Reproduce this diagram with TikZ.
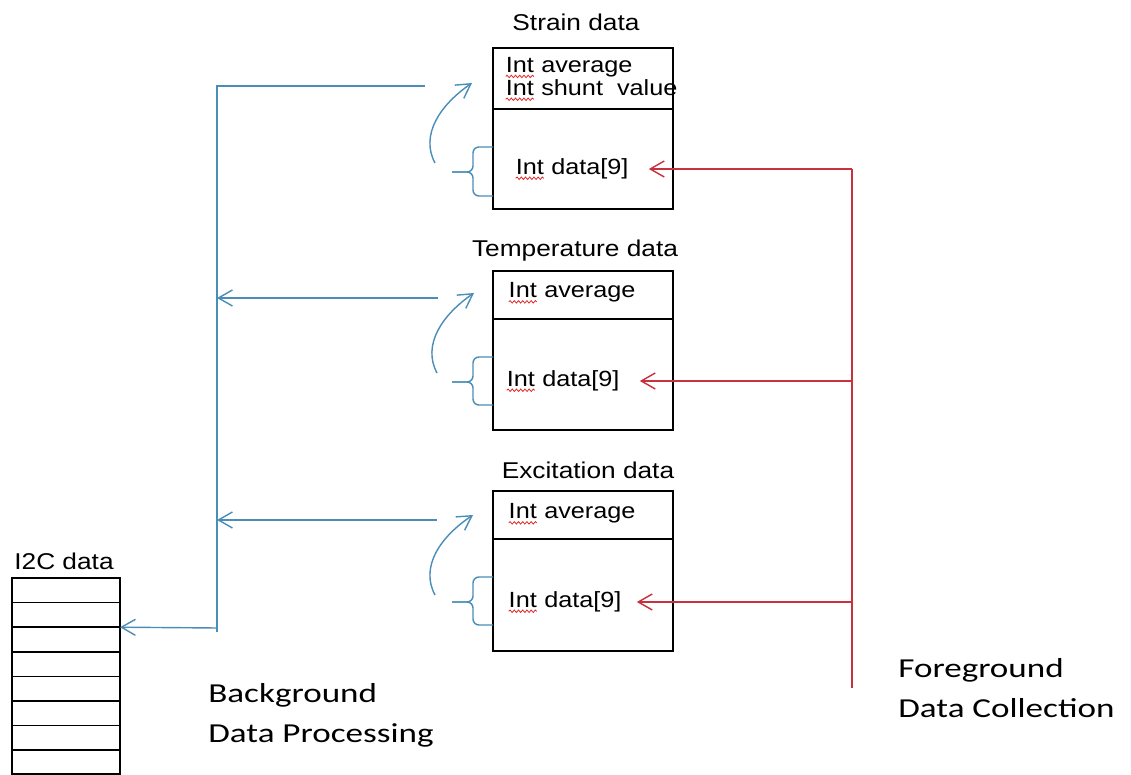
\documentclass[tikz,border=0pt]{standalone}
\usepackage{fontspec}
\usepackage{xcolor}
\usepackage{tikz}
\usetikzlibrary{arrows.meta, positioning, decorations.pathmorphing}

\newfontfamily\arialfont[FakeStretch=1.15]{Liberation Sans}
\newfontfamily\calibrifont[FakeStretch=1.28]{Carlito}

\definecolor{busblue}{RGB}{74,141,183}
\definecolor{feedred}{RGB}{200,50,60}
\definecolor{spellred}{RGB}{225,40,40}

% red wavy underline under a word
\newcommand{\typo}[1]{\tikz[baseline=(typoword.base)]{\node[inner sep=0pt, outer sep=0pt] (typoword) {#1};
  \draw[spellred, line width=0.45pt, decorate, decoration={snake, amplitude=0.7pt, segment length=2.4pt}]
    ([yshift=-2.4pt]typoword.base west) -- ([yshift=-2.4pt]typoword.base east);}}

\begin{document}
\begin{tikzpicture}[x=0.2mm, y=0.2mm,
  >={Straight Barb[length=2.8mm, width=3.2mm]},
  part/.style={draw, line width=0.8pt, minimum width=36mm, inner sep=0pt, outer sep=0pt},
  field/.style={font=\arialfont\fontsize{12.5}{13}\selectfont, anchor=west, align=left, inner sep=0pt},
  title/.style={font=\arialfont\fontsize{13}{13}\selectfont, anchor=base, inner sep=0pt},
  cell/.style={draw, line width=0.9pt, minimum width=21.6mm, minimum height=4.92mm, inner sep=0pt, outer sep=0pt},
  note/.style={font=\calibrifont\fontsize{15.6}{22.8}\selectfont, anchor=north west, align=left, inner sep=0pt},
  bus/.style={draw=busblue, line width=0.8pt},
  feed/.style={draw=feedred, line width=0.8pt}]
\useasboundingbox (0,0) rectangle (1131,-775);

% Strain data
\node[title] (strainlbl) at (576,-31) {Strain data};
\node[part, minimum height=12.2mm] (stop) at (583,-78.5) {};
\node[part, minimum height=20mm, below=0pt of stop] (sbot) {};
\node[field] (savg) at (505,-79) {\typo{Int} average\\\typo{Int} shunt\ \ value};
\node[field] (sdata) at (515,-169) {\typo{Int} data[9]};

% Temperature data
\node[title] (templbl) at (575,-257) {Temperature data};
\node[part, minimum height=9.6mm] (ttop) at (583,-295) {};
\node[part, minimum height=22.2mm, below=0pt of ttop] (tbot) {};
\node[field] (tavg) at (508,-293) {\typo{Int} average};
\node[field] (tdata) at (506,-381) {\typo{Int} data[9]};

% Excitation data
\node[title] (exclbl) at (588,-479) {Excitation data};
\node[part, minimum height=9.6mm] (etop) at (583,-515) {};
\node[part, minimum height=22.4mm, below=0pt of etop] (ebot) {};
\node[field] (eavg) at (508,-514) {\typo{Int} average};
\node[field] (edata) at (508,-602) {\typo{Int} data[9]};

% I2C data stack
\node[title] (i2clbl) at (64,-570) {I2C data};
\node[cell] (cell1) at (66,-590.3) {};
\node[cell, below=0pt of cell1] (cell2) {};
\node[cell, below=0pt of cell2] (cell3) {};
\node[cell, below=0pt of cell3] (cell4) {};
\node[cell, below=0pt of cell4] (cell5) {};
\node[cell, below=0pt of cell5] (cell6) {};
\node[cell, below=0pt of cell6] (cell7) {};
\node[cell, below=0pt of cell7] (cell8) {};
\draw[line width=1.6pt] (cell1.north west) rectangle (cell8.south east);

% background processing bus
\coordinate (sFree) at (425,-86);
\coordinate (busTop) at (217,-86);
\coordinate (busEnd) at (217,-632);
\coordinate (tFree) at (438,-298);
\coordinate (busT) at (217,-298);
\coordinate (eFree) at (437,-520);
\coordinate (busE) at (217,-520);
\coordinate (busI2C) at (217,-628);
\draw[bus] (sFree) -- (busTop) -- (busEnd);
\draw[bus, ->] (tFree) -- (busT);
\draw[bus, ->] (eFree) -- (busE);
\draw[bus, ->] (busI2C) -- (cell2.south east);

% averaging loops
\coordinate (sLoopA) at (435,-163);
\coordinate (sLoopB) at (472,-83);
\coordinate (tLoopA) at (437,-373);
\coordinate (tLoopB) at (474,-293);
\coordinate (eLoopA) at (435,-595);
\coordinate (eLoopB) at (473,-515);
\draw[bus, ->] (sLoopA) .. controls (420,-135) and (440,-105) .. (sLoopB);
\draw[bus, ->] (tLoopA) .. controls (422,-345) and (442,-315) .. (tLoopB);
\draw[bus, ->] (eLoopA) .. controls (420,-567) and (440,-537) .. (eLoopB);

% brackets
\draw[bus, rounded corners=1.2mm] (sbot.west |- 0,-147) -- (473,-147) -- (473,-172) -- (452,-172);
\draw[bus, rounded corners=1.2mm] (sbot.west |- 0,-196) -- (473,-196) -- (473,-172) -- (452,-172);
\draw[bus, rounded corners=1.2mm] (tbot.west |- 0,-357) -- (473,-357) -- (473,-382) -- (452,-382);
\draw[bus, rounded corners=1.2mm] (tbot.west |- 0,-405) -- (473,-405) -- (473,-382) -- (452,-382);
\draw[bus, rounded corners=1.2mm] (ebot.west |- 0,-577) -- (473,-577) -- (473,-602) -- (452,-602);
\draw[bus, rounded corners=1.2mm] (ebot.west |- 0,-625) -- (473,-625) -- (473,-602) -- (452,-602);

% foreground collection
\coordinate (trunkS) at (852,-169);
\coordinate (trunkT) at (852,-381);
\coordinate (trunkE) at (852,-602);
\coordinate (trunkEnd) at (852,-688);
\draw[feed] (trunkS) -- (trunkEnd);
\draw[feed, ->, shorten >=4mm] (trunkS) -- (sdata.east);
\draw[feed, ->, shorten >=4mm] (trunkT) -- (tdata.east);
\draw[feed, ->, shorten >=3mm] (trunkE) -- (edata.east);

\node[note] (bgnote) at (208,-683) {Background\\Data Processing};
\node[note] (fgnote) at (898,-658) {Foreground\\Data Collection};
\end{tikzpicture}
\end{document}
